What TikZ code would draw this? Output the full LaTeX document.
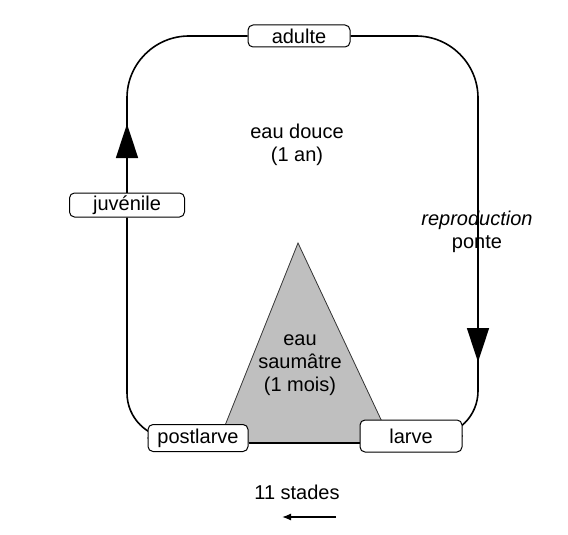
\documentclass[tikz,border=0pt]{standalone}
\usepackage{fontspec}
\setmainfont{Liberation Sans}
\usetikzlibrary{arrows.meta,positioning,calc,backgrounds}
\tikzset{
  stagebox/.style ={draw,rounded corners=5pt,align=center,fill=white,
                    line width=1pt,inner sep=2pt,minimum height=24pt},
  cyc/.style      ={line width=1.6pt,rounded corners=62pt},
  bigtip/.style   ={-{Triangle[length=34pt,width=22pt]},line width=1.6pt},
  lbl/.style      ={align=center,inner sep=1pt},
  smallarr/.style ={-{Latex[length=9pt,width=7pt]},line width=1.3pt},
}

\begin{document}
\begin{tikzpicture}[x=1pt,y=-1pt,font=\fontsize{20}{23}\selectfont]
\useasboundingbox (0,0) rectangle (568,535);

% stages
\node[stagebox,minimum width=102pt,minimum height=22pt] (adulte)    at (299,36)  {adulte};
\node[stagebox,minimum width=115pt]                     (juvenile)  at (127,205) {juvénile};
\node[stagebox,minimum width=100pt,minimum height=27pt] (postlarve) at (198,438) {postlarve};
\node[stagebox,minimum width=102pt,minimum height=32pt] (larve)     at (411,436) {larve};

\coordinate (tl) at (127,36);
\coordinate (tr) at (478,36);
\coordinate (bl) at (127,438);
\coordinate (br) at (478,436);
\coordinate (rmid) at (478,240);

\begin{scope}[on background layer]
% brackish water triangle
\filldraw[fill=black!25,draw=black!80,line width=0.8pt]
   (218,443) -- (298,243) -- (392,443);
% cycle
\draw[cyc] (adulte.west) -- (tl) -- (juvenile.north);
\draw[cyc,rounded corners=45pt] (juvenile.south) -- (bl) -- (postlarve.west);
\draw[cyc] (adulte.east) -- (tr) -- (rmid);
\draw[cyc,rounded corners=45pt] (rmid) -- (br) -- (larve.east);
\draw[line width=1.6pt] (postlarve.east |- 0,443) -- (larve.west |- 0,443);
\end{scope}

% direction tips
\coordinate (upTip)   at (127,124);
\coordinate (downBase) at (478,300);
\coordinate (downTip) at (478,362);
\draw[bigtip] (juvenile.north) -- (upTip);
\draw[bigtip] (downBase) -- (downTip);

% labels
\node[lbl] (douce) at (297,145) {eau douce\\(1 an)};
\node[lbl] (saumatre) at (300,365) {eau\\saumâtre\\(1 mois)};
\node[lbl] (repro) at (477,232) {\textit{reproduction}\\ponte};

% stades
\node[lbl] (stades) at (297,492) {11 stades};
\coordinate (sStart) at (336,517);
\coordinate (sEnd) at (282,517);
\draw[smallarr] (sStart) -- (sEnd);

\end{tikzpicture}
\end{document}
